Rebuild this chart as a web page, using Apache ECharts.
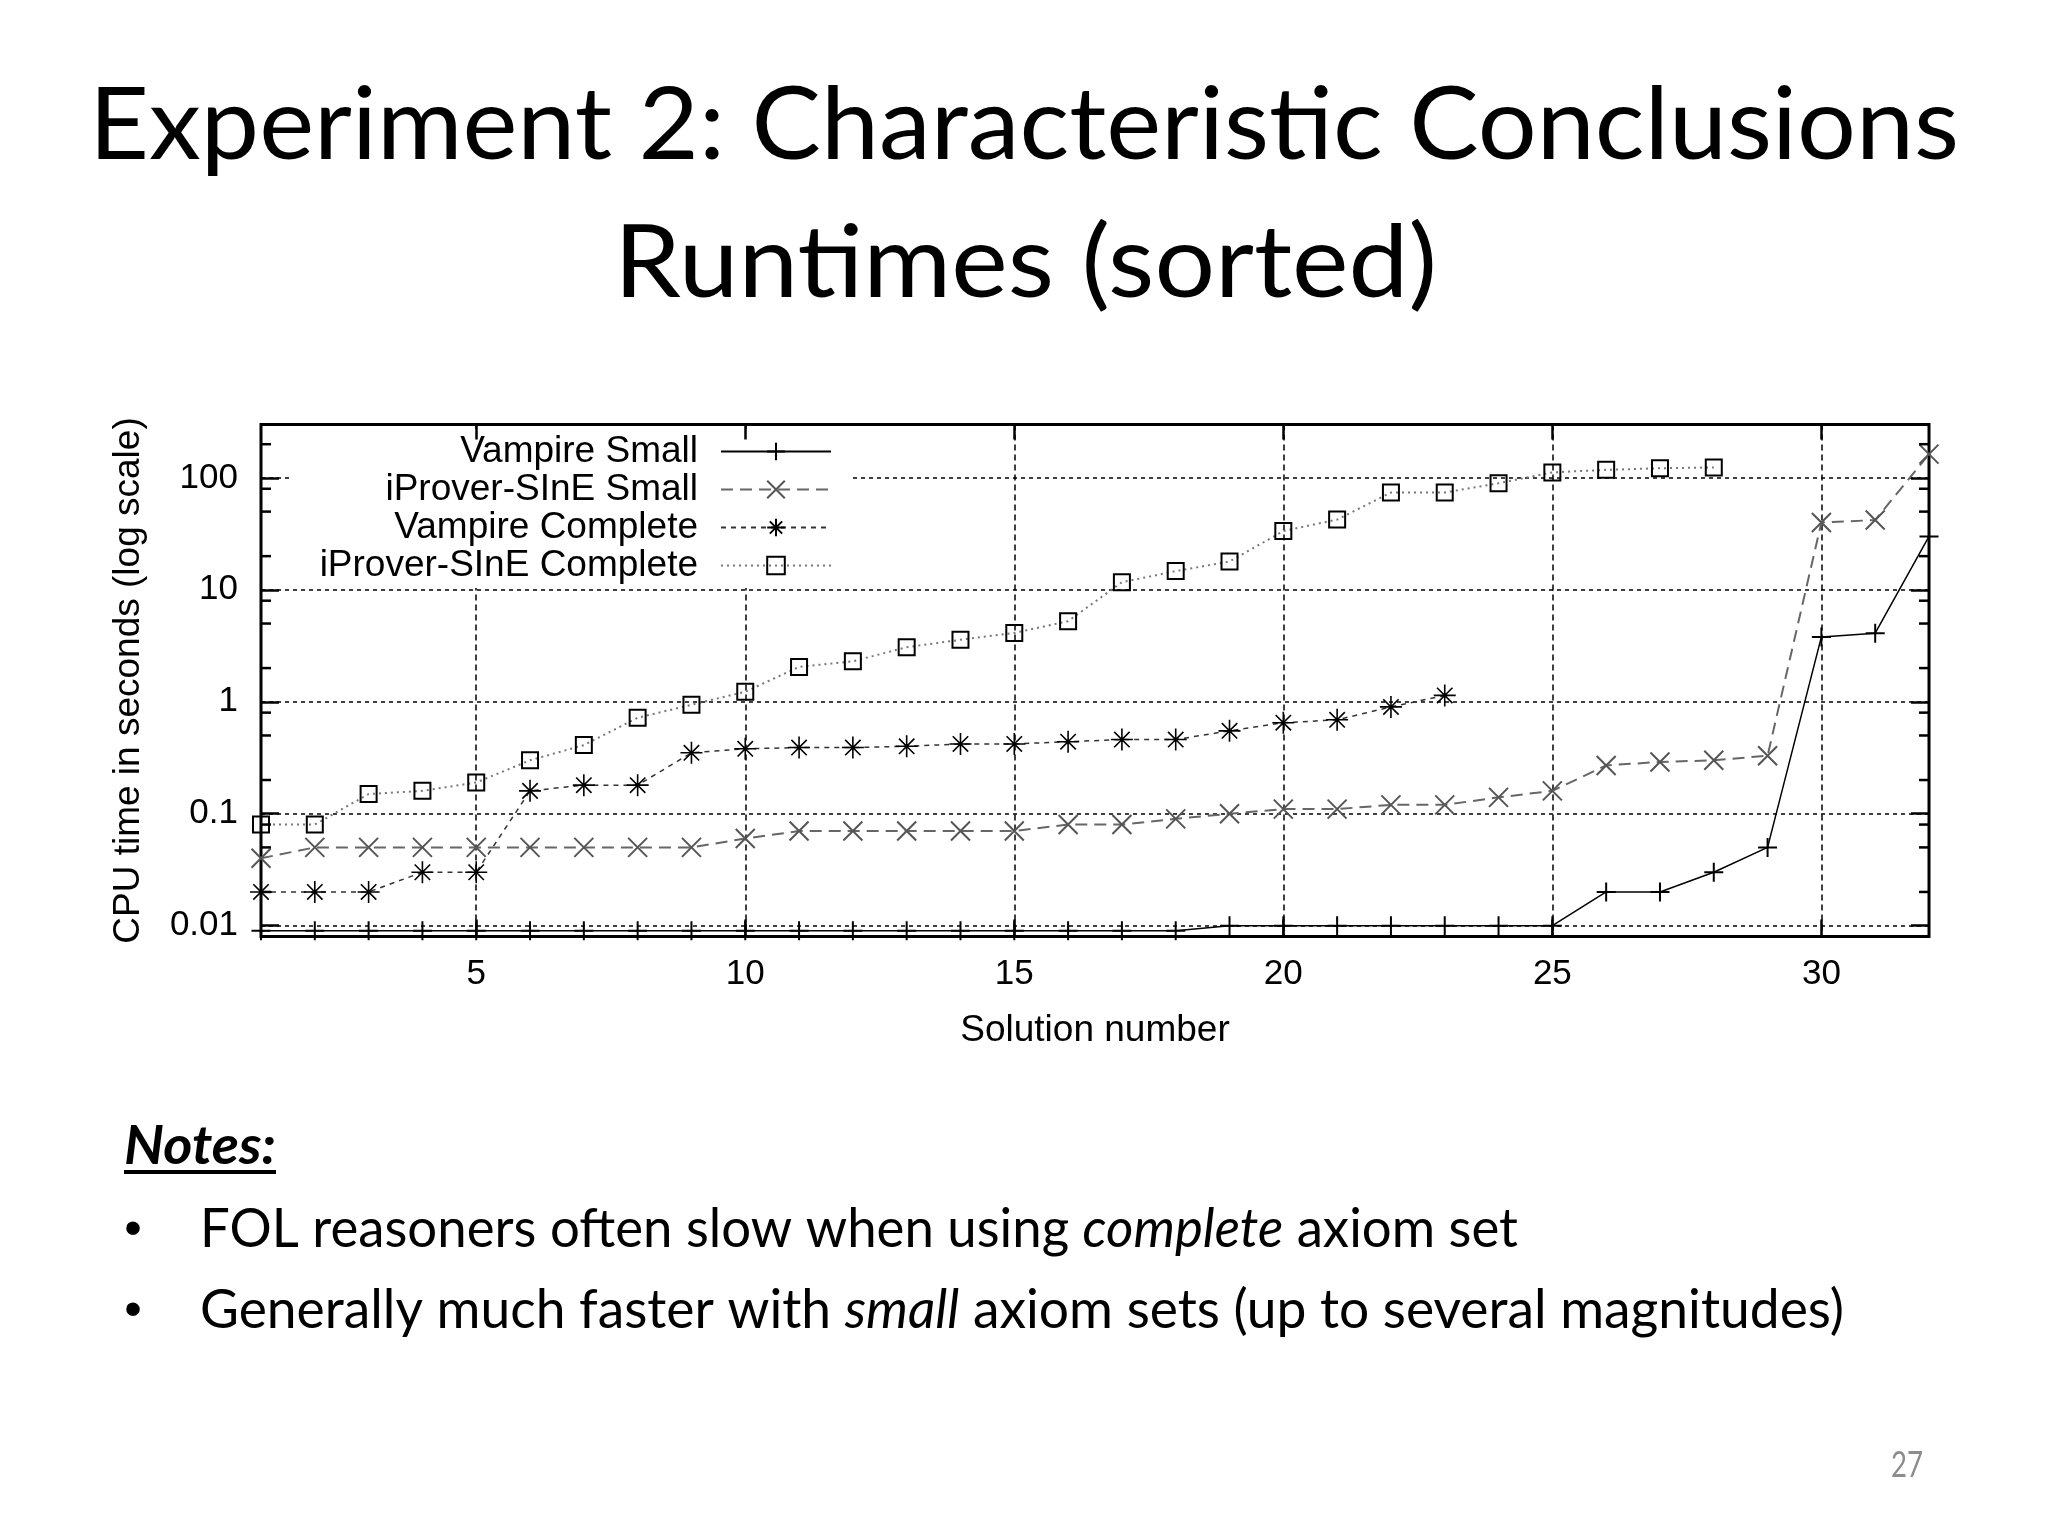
<!DOCTYPE html>
<html>
<head>
<meta charset="utf-8">
<script src="https://cdn.jsdelivr.net/npm/echarts@6/dist/echarts.min.js"></script>
<style>
html,body{margin:0;padding:0;background:#fff;}
#chart{width:2048px;height:1536px;}
</style>
</head>
<body>
<div id="chart"></div>
<script>
// ---------------- data ----------------
const solutionNumbers = [1,2,3,4,5,6,7,8,9,10,11,12,13,14,15,16,17,18,19,20,21,22,23,24,25,26,27,28,29,30,31,32];
const seriesNames = ['Vampire Small', 'iProver-SInE Small', 'Vampire Complete', 'iProver-SInE Complete'];
const vampireSmall = [0.009,0.009,0.009,0.009,0.009,0.009,0.009,0.009,0.009,0.009,0.009,0.009,0.009,0.009,0.009,0.009,0.009,0.009,
  0.01,0.01,0.01,0.01,0.01,0.01,0.01,0.02,0.02,0.03,0.05,3.8,4.1,30];
const iproverSmall = [0.04,0.05,0.05,0.05,0.05,0.05,0.05,0.05,0.05,0.06,0.07,0.07,0.07,0.07,0.07,0.08,0.08,0.09,0.10,0.11,0.11,
  0.12,0.12,0.14,0.16,0.27,0.29,0.30,0.33,40,42,163];
const vampireComplete = [0.02,0.02,0.02,0.03,0.03,0.16,0.18,0.18,0.35,0.38,0.39,0.39,0.40,0.42,0.42,0.44,0.46,0.46,0.55,0.65,0.69,0.90,1.14];
const iproverComplete = [0.08,0.08,0.15,0.16,0.19,0.30,0.41,0.72,0.94,1.23,2.05,2.30,3.07,3.58,4.12,5.25,11.7,14.7,17.9,33.5,42.4,
  74,74,89.6,112,118,122,124];
const xTickValues = [5,10,15,20,25,30];
const yMinorTickValues = [0.02,0.05,0.08,0.2,0.5,0.8,2,5,8,20,50,80,200];
const xRange = [1, 32];
const yRange = [0.008, 300];
const titleLines = ['Experiment 2: Characteristic Conclusions', 'Runtimes (sorted)'];
const notesHeading = 'Notes:';
const bulletLines = [
  [['FOL reasoners often slow when using ', 'n'], ['complete', 'i'], [' axiom set', 'n']],
  [['Generally much faster with ', 'n'], ['small', 'i'], [' axiom sets (up to several magnitudes)', 'n']]
];
const pageNumber = '27';

// ---------------- helpers ----------------
const AXIS_FONT = 'Liberation Sans';
const SLIDE_FONT = 'Lato';
const ctx = document.createElement('canvas').getContext('2d');
function textWidth(str, font) { ctx.font = font; return ctx.measureText(str).width; }
function pairs(values) { return values.map((v, i) => [solutionNumbers[i], v]); }

const plusPath = 'path://M0,10L20,10M10,0L10,20';
const crossPath = 'path://M0,0L20,20M20,0L0,20';
const starPath = 'path://M0,10L20,10M10,0L10,20M3,3L17,17M17,3L3,17';

// ---------------- slide text ----------------
const titleSize = 100;
const titleFont = `${titleSize}px ${SLIDE_FONT}`;
const titleTargets = [{w: 1870, cx: 1024, y: 127}, {w: 823, cx: 1025.5, y: 264.5}];
const graphics = [];
titleLines.forEach((line, i) => {
  const s = titleTargets[i].w / textWidth(line, titleFont);
  graphics.push({type: 'text', x: titleTargets[i].cx, y: titleTargets[i].y, scaleX: s, z: 100,
    style: {text: line, fill: '#000', fontSize: titleSize, fontFamily: SLIDE_FONT,
      align: 'center', textAlign: 'center', verticalAlign: 'middle', textVerticalAlign: 'middle'}});
});

const notesSize = 54;
const nFont = `${notesSize}px ${SLIDE_FONT}`;
const iFont = `italic ${notesSize}px ${SLIDE_FONT}`;
const hFont = `italic bold ${notesSize}px ${SLIDE_FONT}`;
const headX = 124, headW = 152;
graphics.push({type: 'text', x: headX, y: 1146.6, scaleX: headW / textWidth(notesHeading, hFont), z: 100,
  style: {text: notesHeading, fill: '#000', fontSize: notesSize, fontFamily: SLIDE_FONT, fontStyle: 'italic', fontWeight: 'bold',
    align: 'left', textAlign: 'left', verticalAlign: 'middle', textVerticalAlign: 'middle'}});
graphics.push({type: 'line', z: 100, shape: {x1: headX, y1: 1172, x2: headX + headW, y2: 1172}, style: {stroke: '#000', lineWidth: 4}});

const bulletTargets = [{w: 1318, y: 1229.6}, {w: 1644, y: 1310.6}];
bulletLines.forEach((segs, i) => {
  const raw = segs.reduce((acc, [s, k]) => acc + textWidth(s, k === 'i' ? iFont : nFont), 0);
  const text = segs.map(([s, k]) => `{${k}|${s}}`).join('');
  graphics.push({type: 'text', x: 200, y: bulletTargets[i].y, scaleX: bulletTargets[i].w / raw, z: 100,
    style: {text: text, fill: '#000', fontSize: notesSize, fontFamily: SLIDE_FONT,
      align: 'left', textAlign: 'left', verticalAlign: 'middle', textVerticalAlign: 'middle',
      rich: {n: {fill: '#000', fontSize: notesSize, fontFamily: SLIDE_FONT},
             i: {fill: '#000', fontSize: notesSize, fontFamily: SLIDE_FONT, fontStyle: 'italic'}}}});
  graphics.push({type: 'text', x: 133, y: bulletTargets[i].y + 2, z: 100,
    style: {text: '\u2022', fill: '#000', fontSize: 50, fontFamily: 'Liberation Sans',
      align: 'center', textAlign: 'center', verticalAlign: 'middle', textVerticalAlign: 'middle'}});
});
graphics.push({type: 'text', x: 1923, y: 1465, z: 100,
  scaleX: 32 / textWidth(pageNumber, `36px ${SLIDE_FONT}`),
  style: {text: pageNumber, fill: '#8c8c8c', fontSize: 36, fontFamily: SLIDE_FONT,
    align: 'right', textAlign: 'right', verticalAlign: 'middle', textVerticalAlign: 'middle'}});

// ---------------- chart ----------------
const tickLine = {color: '#000', width: 2.5};
const labelStyle = {fontSize: 35, fontFamily: AXIS_FONT, color: '#000'};
const nameStyle = {fontSize: 37, fontFamily: AXIS_FONT, color: '#000'};

const option = {
  backgroundColor: '#fff',
  animation: false,
  grid: {left: 261, right: 119, top: 424.5, bottom: 599.5, show: true, borderColor: '#000', borderWidth: 3, backgroundColor: 'transparent'},
  legend: {
    orient: 'vertical', right: 1195, top: 429, align: 'right',
    itemWidth: 110, itemHeight: 22, itemGap: 1,
    padding: [4, 21, 4, 30], backgroundColor: '#fff',
    selectedMode: false,
    textStyle: {fontSize: 37, fontFamily: AXIS_FONT, color: '#000', padding: [0, 18, 0, 0]},
    data: seriesNames
  },
  xAxis: [
    {type: 'value', position: 'bottom', min: xRange[0], max: xRange[1],
     name: 'Solution number', nameLocation: 'middle', nameGap: 76, nameTextStyle: nameStyle,
     axisLine: {show: false},
     axisTick: {show: true, inside: true, length: 17, customValues: xTickValues, lineStyle: tickLine},
     axisLabel: Object.assign({customValues: xTickValues, margin: 20}, labelStyle),
     splitLine: {show: true, lineStyle: {color: '#000', width: 1.5, type: [6, 4]}}},
    {type: 'value', position: 'top', min: xRange[0], max: xRange[1], z: 10,
     axisLine: {show: false},
     axisTick: {show: true, inside: true, length: 15, customValues: xTickValues, lineStyle: tickLine},
     axisLabel: {show: false}, splitLine: {show: false}}
  ],
  yAxis: [
    {type: 'log', logBase: 10, position: 'left', min: yRange[0], max: yRange[1],
     name: 'CPU time in seconds (log scale)', nameLocation: 'middle', nameGap: 114, nameTextStyle: nameStyle,
     axisLine: {show: false}, axisTick: {show: false},
     axisLabel: Object.assign({margin: 23, showMinLabel: false, showMaxLabel: false}, labelStyle),
     splitLine: {show: true, lineStyle: {color: '#000', width: 1.5, type: [4, 4]}}},
    {type: 'log', logBase: 10, position: 'left', min: yRange[0], max: yRange[1], z: 10,
     axisLine: {show: false}, axisTick: {show: true, inside: true, length: 18, lineStyle: tickLine},
     axisLabel: {show: false}, splitLine: {show: false}},
    {type: 'log', logBase: 10, position: 'right', min: yRange[0], max: yRange[1], z: 10,
     axisLine: {show: false}, axisTick: {show: true, inside: true, length: 18, lineStyle: tickLine},
     axisLabel: {show: false}, splitLine: {show: false}}
  ],
  series: [
    {name: seriesNames[0], type: 'line', xAxisIndex: 0, yAxisIndex: 0, data: pairs(vampireSmall),
     symbol: plusPath, symbolSize: 19,
     itemStyle: {color: 'none', borderColor: '#000', borderWidth: 2},
     lineStyle: {color: '#000', width: 1.5, type: 'solid'}, emphasis: {disabled: true}},
    {name: seriesNames[1], type: 'line', xAxisIndex: 0, yAxisIndex: 0, data: pairs(iproverSmall),
     symbol: crossPath, symbolSize: 19,
     itemStyle: {color: 'none', borderColor: '#555', borderWidth: 2},
     lineStyle: {color: '#666', width: 2, type: [12, 7]}, emphasis: {disabled: true}},
    {name: seriesNames[2], type: 'line', xAxisIndex: 0, yAxisIndex: 0, data: pairs(vampireComplete),
     symbol: starPath, symbolSize: 22,
     itemStyle: {color: 'none', borderColor: '#000', borderWidth: 1.6},
     lineStyle: {color: '#333', width: 1.5, type: [5, 5]}, emphasis: {disabled: true}},
    {name: seriesNames[3], type: 'line', xAxisIndex: 0, yAxisIndex: 0, data: pairs(iproverComplete),
     symbol: 'rect', symbolSize: 16,
     itemStyle: {color: 'none', borderColor: '#000', borderWidth: 2},
     lineStyle: {color: '#777', width: 2, type: [2, 4]}, emphasis: {disabled: true}},
    {type: 'custom', xAxisIndex: 0, yAxisIndex: 0, z: 10, silent: true, clip: false,
     data: yMinorTickValues.map(v => [xRange[0], v]),
     renderItem: function (params, api) {
       const p = api.coord([api.value(0), api.value(1)]);
       const cs = params.coordSys;
       const L = 10;
       return {type: 'group', children: [
         {type: 'line', shape: {x1: cs.x, y1: p[1], x2: cs.x + L, y2: p[1]}, style: {stroke: '#000', lineWidth: 2.5}},
         {type: 'line', shape: {x1: cs.x + cs.width - L, y1: p[1], x2: cs.x + cs.width, y2: p[1]}, style: {stroke: '#000', lineWidth: 2.5}}
       ]};
     }}
  ],
  graphic: graphics
};

const chart = echarts.init(document.getElementById('chart'), null, {renderer: 'canvas'});
chart.setOption(option);
</script>
</body>
</html>
